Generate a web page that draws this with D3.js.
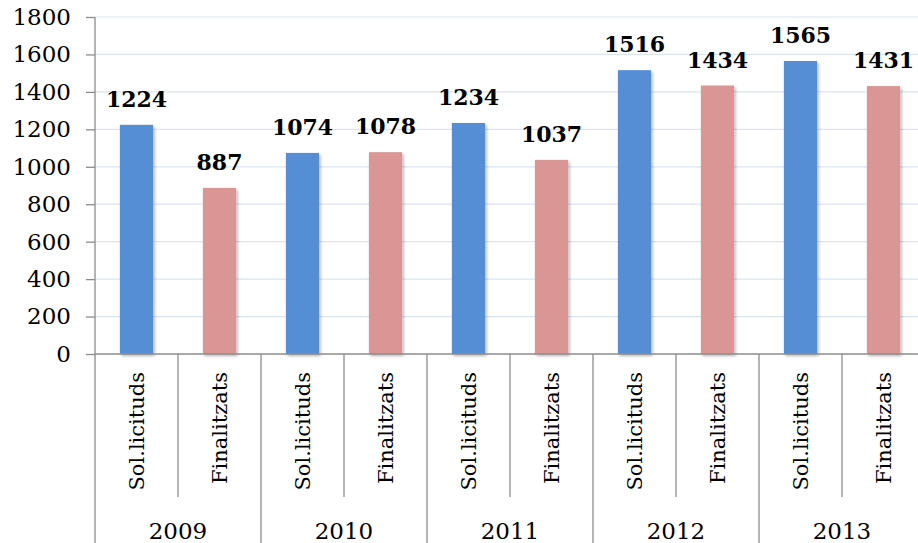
<!DOCTYPE html>
<html lang="ca">
  <head>
    <meta charset="UTF-8" />
    <title>Sol.licituds i Finalitzats</title>
    <script src="https://d3js.org/d3.v7.min.js"></script>
    <style>
      body {
        margin: 0;
        background: #fff;
      }
      svg {
        display: block;
        font-family: "DejaVu Serif", serif;
      }
      .grid line {
        stroke: #dce3f1;
        stroke-width: 1.2;
      }
      .axis line,
      .axis path {
        stroke: #8c8c8c;
        stroke-width: 1.3;
      }
    </style>
  </head>
  <body>
    <svg width="918" height="543"></svg>
    <script>
      // dades
      const years = ["2009", "2010", "2011", "2012", "2013"];
      const kinds = ["Sol.licituds", "Finalitzats"];
      const solValues = [1224, 1074, 1234, 1516, 1565];
      const finValues = [887, 1078, 1037, 1434, 1431];
      const yTicks = [0, 200, 400, 600, 800, 1000, 1200, 1400, 1600, 1800];
      const colors = ["#558ed5", "#d99694"];

      const rows = [];
      years.forEach((yr, i) => {
        rows.push({ key: yr + "-0", year: yr, kind: 0, value: solValues[i] });
        rows.push({ key: yr + "-1", year: yr, kind: 1, value: finValues[i] });
      });

      const svg = d3.select("svg");
      const mLeft = 95, mTop = 17, mBottom = 354, mRight = 925;

      const x = d3.scaleBand().domain(rows.map((d) => d.key)).range([mLeft, mRight]);
      const y = d3.scaleLinear().domain([0, 1800]).range([mBottom, mTop]);
      const barW = x.step() * 0.4;

      const defs = svg.append("defs");
      defs
        .append("filter")
        .attr("id", "shadow")
        .attr("x", "-20%").attr("y", "-5%")
        .attr("width", "150%").attr("height", "120%")
        .append("feDropShadow")
        .attr("dx", 1.5).attr("dy", 2)
        .attr("stdDeviation", 1.6)
        .attr("flood-color", "#000")
        .attr("flood-opacity", 0.3);

      // graella
      svg
        .append("g")
        .attr("class", "grid")
        .selectAll("line")
        .data(yTicks.slice(1))
        .join("line")
        .attr("x1", mLeft)
        .attr("x2", mRight)
        .attr("y1", (d) => y(d))
        .attr("y2", (d) => y(d));

      // barres
      svg
        .append("g")
        .selectAll("rect")
        .data(rows)
        .join("rect")
        .attr("x", (d) => x(d.key) + (x.step() - barW) / 2)
        .attr("y", (d) => y(d.value))
        .attr("width", barW)
        .attr("height", (d) => mBottom - y(d.value))
        .attr("fill", (d) => colors[d.kind])
        .attr("filter", "url(#shadow)");

      // etiquetes de valor
      svg
        .append("g")
        .selectAll("text")
        .data(rows)
        .join("text")
        .attr("x", (d) => x(d.key) + x.step() / 2)
        .attr("y", (d) => y(d.value) - 18)
        .attr("text-anchor", "middle")
        .attr("font-size", 22)
        .attr("font-weight", "bold")
        .attr("fill", "#000")
        .text((d) => d.value);

      // eix Y
      const yAxis = svg
        .append("g")
        .attr("class", "axis")
        .attr("transform", `translate(${mLeft},0)`)
        .call(
          d3.axisLeft(y).tickValues(yTicks).tickFormat(d3.format("d"))
            .tickSize(9).tickPadding(15)
        );
      yAxis.select(".domain").remove();
      yAxis.selectAll("text").attr("font-size", 23).attr("fill", "#000")
        .attr("font-family", "DejaVu Serif, serif");

      const axes = svg.append("g").attr("class", "axis");
      axes.append("line").attr("x1", mLeft).attr("x2", mLeft).attr("y1", mTop).attr("y2", 543);
      axes.append("line").attr("x1", mLeft).attr("x2", mRight).attr("y1", mBottom).attr("y2", mBottom);

      // separadors
      axes
        .selectAll(".sep")
        .data(rows.filter((d) => d.kind === 1))
        .join("line")
        .attr("x1", (d) => x(d.key))
        .attr("x2", (d) => x(d.key))
        .attr("y1", mBottom)
        .attr("y2", 497);
      axes
        .selectAll(".ysep")
        .data(rows.filter((d) => d.kind === 0 && d.year !== years[0]))
        .join("line")
        .attr("x1", (d) => x(d.key))
        .attr("x2", (d) => x(d.key))
        .attr("y1", mBottom)
        .attr("y2", 543);

      // etiquetes de categoria
      svg
        .append("g")
        .selectAll("text")
        .data(rows)
        .join("text")
        .attr("transform", (d) => `translate(${x(d.key) + x.step() / 2 + 7},372) rotate(-90)`)
        .attr("text-anchor", "end")
        .attr("font-size", 21)
        .attr("fill", "#000")
        .text((d) => kinds[d.kind]);

      // anys
      svg
        .append("g")
        .selectAll("text")
        .data(years)
        .join("text")
        .attr("x", (d) => x(d + "-0") + x.step())
        .attr("y", 539)
        .attr("text-anchor", "middle")
        .attr("font-size", 23)
        .attr("fill", "#000")
        .text((d) => d);
    </script>
  </body>
</html>
